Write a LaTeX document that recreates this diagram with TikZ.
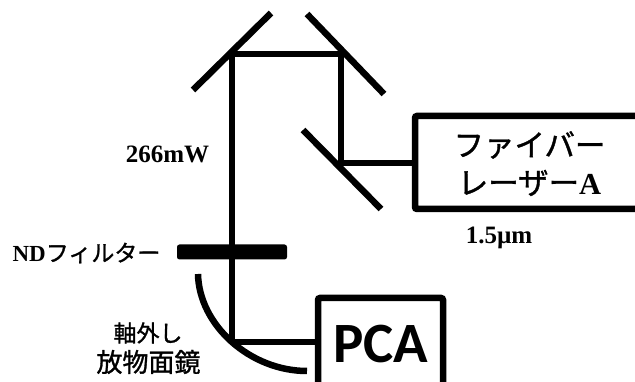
\documentclass[tikz,border=0pt]{standalone}
\usepackage{fontspec}
\setmainfont{Liberation Serif}
\newfontfamily\jp[FakeBold=1.2]{Noto Sans CJK JP}
\newfontfamily\pcafont{Carlito}
\tikzset{
  x=1pt,y=-1pt,
  beam/.style={line width=6.5pt,draw=black},
  mirror/.style={line width=6.5pt,draw=black},
  devbox/.style={draw=black,line width=6.5pt,rounded corners=2pt,inner sep=0pt,outer sep=0pt,anchor=north west},
  lab/.style={inner sep=0pt,font=\fontsize{23}{23}\bfseries,text=black},
  bigjp/.style={inner sep=0pt,font=\fontsize{30.5}{30.5}\bfseries,text=black}
}
\begin{document}
\begin{tikzpicture}
\useasboundingbox (0,0) rectangle (635,382);
\fill[white] (0,0) rectangle (635,382);
% devices
\node[devbox,minimum width=240pt,minimum height=93pt] (laser) at (415,116) {};
\node[devbox,minimum width=125pt,minimum height=110pt] (pca) at (318,298) {};
% junctions
\coordinate (m1) at (232,54);
\coordinate (m2) at (341,54);
\coordinate (m3) at (341,163);
\coordinate (m4) at (232,342);
% beams
\draw[beam] (laser.west |- m3) -- (m3) -- (m2) -- (m1) -- (m4);
\draw[beam] (m4) -- (m4 -| pca.west);
% mirrors
\coordinate (a1) at (193,90); \coordinate (a2) at (271,13);
\coordinate (b1) at (307,14); \coordinate (b2) at (384,94);
\coordinate (c1) at (303,130); \coordinate (c2) at (381,209);
\draw[mirror] (a1) -- (a2);
\draw[mirror] (b1) -- (b2);
\draw[mirror] (c1) -- (c2);
% ND filter
\fill[black,rounded corners=2.5pt] (177,244.5) rectangle (287,259.5);
% parabolic mirror
\coordinate (p1) at (198,274); \coordinate (p2) at (307,371);
\draw[mirror] (p1) .. controls (199,325) and (250,371) .. (p2);
% labels
\node[lab,font=\fontsize{25}{25}\bfseries] (t266) at (167.5,154) {266mW};
\node[lab,font=\fontsize{25}{25}\bfseries] (t15) at (499,238) {1.5µm};
\node[lab] (tnd) at (86.5,253) {ND{\mdseries\jp フィルター}};
\node[lab,font=\fontsize{23}{23}\mdseries\jp] (tm1) at (148,333) {軸外し};
\node[lab,font=\fontsize{26}{26}\mdseries\jp] (tm2) at (148.5,362) {放物面鏡};
\node[bigjp] (tf1) at (529.5,145) {\mdseries\jp ファイバー};
\node[bigjp] (tf2) at (529.5,183) {{\mdseries\jp レーザー}A};
\node[inner sep=0pt,font=\fontsize{57}{57}\pcafont\bfseries] (tpca) at (381,344) {PCA};
\end{tikzpicture}
\end{document}
